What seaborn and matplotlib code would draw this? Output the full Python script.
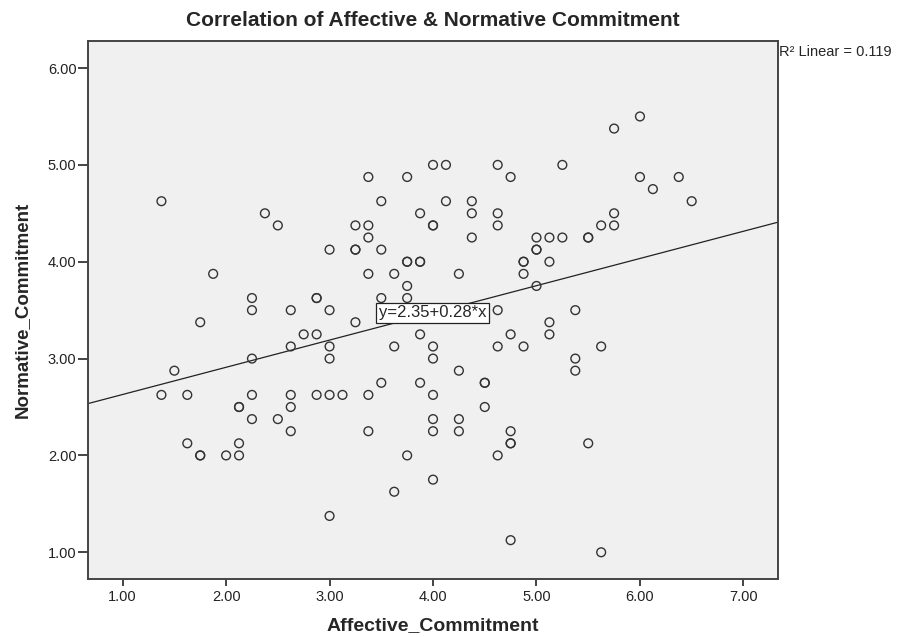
import numpy as np
import pandas as pd
import seaborn as sns
import matplotlib
matplotlib.use("Agg")
import matplotlib.pyplot as plt

# Affective / Normative commitment scores (repeated pairs = overlapping circles)
affective = [
    1.375, 3.375, 3.75, 4.0, 3.5, 2.375, 2.5, 3.875, 4.0, 4.0, 3.25, 3.375, 3.375,
    3.0, 3.25, 3.25, 3.5, 3.75, 3.75, 3.875, 3.875, 1.875, 3.375, 3.625, 3.75,
    2.25, 2.875, 2.875, 3.5, 3.75, 2.25, 2.625, 3.0,
    6.0, 5.75, 4.125, 4.625, 5.25, 4.75, 6.0, 6.375, 6.125, 6.5, 4.125, 4.375,
    4.375, 4.625, 5.75, 4.625, 5.625, 5.75, 4.375, 5.0, 5.125, 5.25, 5.5, 5.5,
    5.0, 5.0, 4.875, 4.875, 5.125, 4.25, 4.875, 5.0, 4.625, 5.375,
    1.75, 3.25, 2.75, 2.875, 3.875, 2.625, 3.0, 3.625, 4.0, 2.25, 3.0, 4.0,
    1.5, 3.5, 3.875, 1.375, 1.625, 2.25, 2.625, 2.875, 3.0, 3.125, 3.375, 4.0,
    2.125, 2.125, 2.625, 2.25, 2.5, 4.0, 2.625, 3.375, 4.0, 1.625, 2.125,
    1.75, 1.75, 2.0, 2.125, 3.75, 4.0, 3.625, 3.0,
    5.125, 5.125, 4.75, 4.625, 4.875, 5.625, 5.375, 5.375, 4.25, 4.5, 4.5,
    4.5, 4.25, 4.25, 4.75, 4.75, 4.75, 5.5, 4.625, 4.75, 5.625,
]
normative = [
    4.625, 4.875, 4.875, 5.0, 4.625, 4.5, 4.375, 4.5, 4.375, 4.375, 4.375, 4.375, 4.25,
    4.125, 4.125, 4.125, 4.125, 4.0, 4.0, 4.0, 4.0, 3.875, 3.875, 3.875, 3.75,
    3.625, 3.625, 3.625, 3.625, 3.625, 3.5, 3.5, 3.5,
    5.5, 5.375, 5.0, 5.0, 5.0, 4.875, 4.875, 4.875, 4.75, 4.625, 4.625, 4.625,
    4.5, 4.5, 4.5, 4.375, 4.375, 4.375, 4.25, 4.25, 4.25, 4.25, 4.25, 4.25,
    4.125, 4.125, 4.0, 4.0, 4.0, 3.875, 3.875, 3.75, 3.5, 3.5,
    3.375, 3.375, 3.25, 3.25, 3.25, 3.125, 3.125, 3.125, 3.125, 3.0, 3.0, 3.0,
    2.875, 2.75, 2.75, 2.625, 2.625, 2.625, 2.625, 2.625, 2.625, 2.625, 2.625, 2.625,
    2.5, 2.5, 2.5, 2.375, 2.375, 2.375, 2.25, 2.25, 2.25, 2.125, 2.125,
    2.0, 2.0, 2.0, 2.0, 2.0, 1.75, 1.625, 1.375,
    3.375, 3.25, 3.25, 3.125, 3.125, 3.125, 3.0, 2.875, 2.875, 2.75, 2.75,
    2.5, 2.375, 2.25, 2.25, 2.125, 2.125, 2.125, 2.0, 1.125, 1.0,
]

title = "Correlation of Affective & Normative Commitment"
xName = "Affective_Commitment"
yName = "Normative_Commitment"
fitLabel = "y=2.35+0.28*x"
r2Label = "R\u00b2 Linear = 0.119"
xTicks = [1, 2, 3, 4, 5, 6, 7]
yTicks = [1, 2, 3, 4, 5, 6]

df = pd.DataFrame({xName: affective, yName: normative})

sns.set_style("ticks")
plt.rcParams["font.family"] = ["Liberation Sans", "DejaVu Sans"]

fig = plt.figure(figsize=(9.15, 6.37), dpi=100)
ax = fig.add_axes([0.0958, 0.0906, 0.754, 0.845])
ax.set_facecolor("#f0f0f0")
ax.set_xlim(0.662, 7.33)
ax.set_ylim(0.721, 6.279)

# line first over full x range (truncate=False uses current xlim)
sns.regplot(data=df, x=xName, y=yName, ax=ax, ci=None, truncate=False,
            scatter_kws=dict(facecolors="none", edgecolors="#333333", s=40,
                             linewidths=1.0, alpha=1, zorder=3),
            line_kws=dict(color="#222222", lw=0.9, zorder=2))
ax.set_xlim(0.662, 7.33)
ax.set_ylim(0.721, 6.279)

# fit label box placed at the middle of the x range, on the line
slope, icpt = np.polyfit(df[xName], df[yName], 1)
xMid = sum(ax.get_xlim()) / 2
ax.text(xMid, icpt + slope * xMid, fitLabel, ha="center", va="center", fontsize=12,
        zorder=5, bbox=dict(boxstyle="square,pad=0.15", fc="white", ec="#222222", lw=0.9))

ax.set_xticks(xTicks)
ax.set_yticks(yTicks)
ax.set_xticklabels([f"{v:.2f}" for v in xTicks])
ax.set_yticklabels([f"{v:.2f}" for v in yTicks])
ax.tick_params(axis="x", direction="out", length=5, width=1.4, color="#444444",
               labelsize=10.5, pad=3, labelcolor="#222222")
ax.tick_params(axis="y", direction="out", length=7.5, width=1.4, color="#444444",
               labelsize=10.5, pad=0.5, labelcolor="#222222")
for s in ax.spines.values():
    s.set_visible(True)
    s.set_color("#444444")
    s.set_linewidth(1.4)

ax.set_xlabel(xName, fontsize=14, fontweight="bold", labelpad=9)
ax.set_ylabel(yName, fontsize=13.5, fontweight="bold", labelpad=12)
ax.set_title(title, fontsize=15, fontweight="bold", pad=10.5)
fig.text(0.8515, 0.93, r2Label, ha="left", va="top", fontsize=10.5)

plt.savefig("out.png", dpi=100)
